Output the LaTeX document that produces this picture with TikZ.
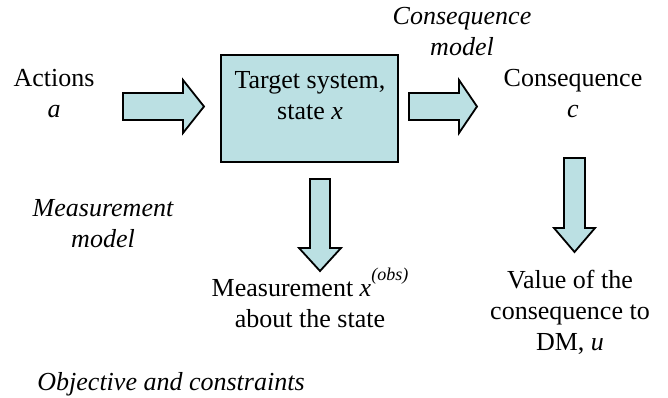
\documentclass[tikz,border=0pt]{standalone}
\usepackage{fontspec}
\setmainfont{Liberation Serif}
\definecolor{sysfill}{RGB}{187,224,227}
\newcommand{\obsmark}{\raisebox{16pt}{\fontsize{18}{18}\selectfont\itshape(obs)}}
\begin{document}
\begin{tikzpicture}[x=1pt,y=-1pt,
  % labels are placed by the baseline of their last line
  lbl/.style={align=center, anchor=base, inner sep=0pt, font=\fontsize{26}{31}\selectfont},
  ilbl/.style={lbl, font=\fontsize{26}{31}\selectfont\itshape},
  blockarrow/.style={draw=black, fill=sysfill, line width=1.8pt, line join=miter},
  sysbox/.style={draw=black, fill=sysfill, line width=1.8pt,
    minimum width=177pt, minimum height=107pt, inner sep=0pt}]
\useasboundingbox (0,0) rectangle (668,397);

% target system block
\node[sysbox] (sys) at (309.5,108.5) {};
\node[lbl] (syslabel) at (310,119) {Target system,\\ state \textit{x}};

% labels
\node[lbl] (actions) at (54,117) {Actions\\ \textit{a}};
\node[ilbl] (cmodel) at (462,55) {Consequence\\ model};
\node[lbl] (conseq) at (573,117) {Consequence\\ \textit{c}};
\node[ilbl] (mmodel) at (103,247) {Measurement\\ model};
\node[lbl] (meas) at (310,327) {Measurement \textit{x}\obsmark\\ about the state};
\node[lbl] (value) at (570,350) {Value of the\\ consequence to\\ DM, \textit{u}};
\node[ilbl] (objective) at (171,390) {Objective and constraints};

% block arrows
\draw[blockarrow] (123,93) -- (183,93) -- (183,80) -- (204,106.5) -- (183,133)
  -- (183,120) -- (123,120) -- cycle;
\draw[blockarrow] (409,93) -- (459,93) -- (459,80) -- (477,106.5) -- (459,133)
  -- (459,120) -- (409,120) -- cycle;
\draw[blockarrow] (310,179) -- (330,179) -- (330,248) -- (341,248) -- (320,271)
  -- (299,248) -- (310,248) -- cycle;
\draw[blockarrow] (564,158) -- (585,158) -- (585,228) -- (595,228) -- (574.5,252)
  -- (554,228) -- (564,228) -- cycle;
\end{tikzpicture}
\end{document}
